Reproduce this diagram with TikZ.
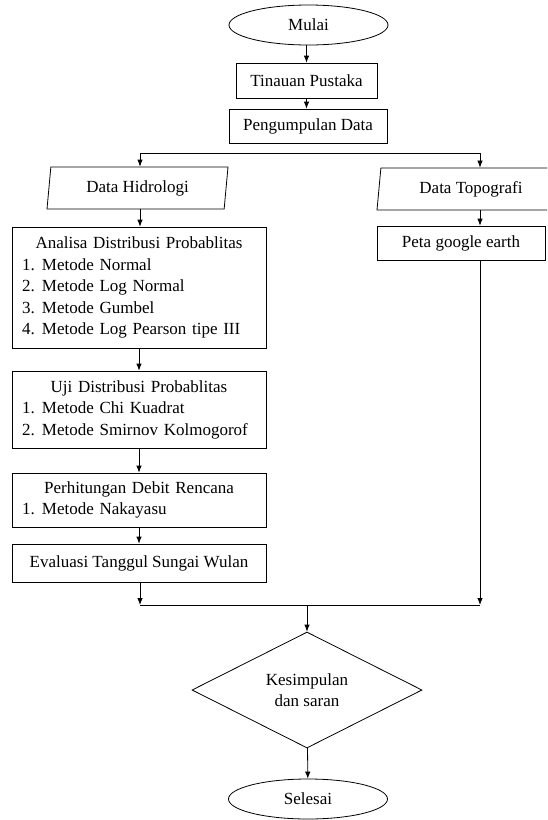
\documentclass[tikz,border=0pt]{standalone}
\usepackage{fontspec}
\setmainfont{Liberation Serif}
\usetikzlibrary{arrows.meta,calc,positioning,shapes.geometric}
\tikzset{%
	startstop/.style= {draw, ellipse, minimum width=159pt, minimum height=40pt, inner sep=0pt},
	inout/.style    = {draw, trapezium, trapezium left angle=76, trapezium right angle=104, trapezium stretches body, minimum height=42pt, inner sep=0pt, text centered},
	process/.style  = {draw, rectangle, inner xsep=10pt, inner ysep=0pt, text centered},
	decision/.style = {draw, diamond, minimum width=230pt, minimum height=116pt, inner sep=0pt, align=center},
	arrow/.style    = {-{Latex[length=7pt,width=5.5pt]}},
}
\newcommand{\mtd}[2]{\makebox[234pt][l]{\makebox[20pt][l]{#1}#2}}

\begin{document}
\begin{tikzpicture}[x=1pt,y=-1pt,line width=0.8pt,font=\fontsize{17}{21.5}\selectfont]
		\useasboundingbox (0,0) rectangle (547,820);
		\clip (0,0) rectangle (547,820);
		
		% upper part
		\node[startstop] (mulai) at (308.5,25) {Mulai};
		\node[process, minimum width=141pt, minimum height=35pt] (tinjau) at (306.5,80.5) {Tinauan Pustaka};
		\node[process, minimum width=158pt, minimum height=34pt] (kumpul) at (308,126) {Pengumpulan Data};
		
		\draw[arrow] (tinjau.north |- mulai.south) -- (tinjau.north);
		\draw[arrow] (tinjau.south) -- (tinjau.south |- kumpul.north);
		
		\coordinate (pisahL) at (140,153);
		\coordinate (pisahR) at (480,153);
		\draw (pisahL) -- (pisahR);
		
		% left column
		\node[inout, minimum width=181pt] (hidro) at (137.5,188) {Data Hidrologi};
		\node[process, minimum width=254pt, minimum height=121pt, text width=234pt, align=center] (analisa) at (139,287.5) {Analisa Distribusi Probablitas\\ \mtd{1.}{Metode Normal}\\ \mtd{2.}{Metode Log Normal}\\ \mtd{3.}{Metode Gumbel}\\ \mtd{4.}{Metode Log Pearson tipe III}};
		\node[process, minimum width=254pt, minimum height=77pt, text width=234pt, align=center] (uji) at (139,409.5) {Uji Distribusi Probablitas\\ \mtd{1.}{Metode Chi Kuadrat}\\ \mtd{2.}{Metode Smirnov Kolmogorof}};
		\node[process, minimum width=254pt, minimum height=54pt, text width=234pt, align=center] (hitung) at (139,500) {Perhitungan Debit Rencana\\ \mtd{1.}{Metode Nakayasu}};
		\node[process, minimum width=254pt, minimum height=38pt] (evaluasi) at (139,563) {Evaluasi Tanggul Sungai Wulan};
		
		\draw[arrow] (pisahL) -- (pisahL |- hidro.north);
		\draw[arrow] (pisahL |- hidro.south) -- (pisahL |- analisa.north);
		\draw[arrow] (analisa) -- (uji);
		\draw[arrow] (uji) -- (hitung);
		\draw[arrow] (hitung) -- (evaluasi);
		
		% right column
		\node[inout, minimum width=188pt] (topo) at (471,189) {Data Topografi};
		\node[process, minimum width=168pt, minimum height=34pt] (peta) at (461,243) {Peta google earth};
		
		\draw[arrow] (pisahR) -- (pisahR |- topo.north);
		\draw[arrow] (pisahR |- topo.south) -- (pisahR |- peta.north);
		
		% lower part
		\coordinate (gabungL) at (140,605);
		\coordinate (gabungR) at (480,605);
		\coordinate (gabungM) at (307,605);
		
		\draw[arrow] (evaluasi.south -| gabungL) -- (gabungL);
		\draw[arrow] (pisahR |- peta.south) -- (gabungR);
		\draw (gabungL) -- (gabungR);
		
		\node[decision] (kesimpulan) at (307,690) {Kesimpulan\\dan saran};
		\node[startstop] (selesai) at (308,799) {Selesai};
		
		\draw[arrow] (gabungM) -- (kesimpulan);
		\draw[arrow] (kesimpulan) -- (selesai);
\end{tikzpicture}
\end{document}
